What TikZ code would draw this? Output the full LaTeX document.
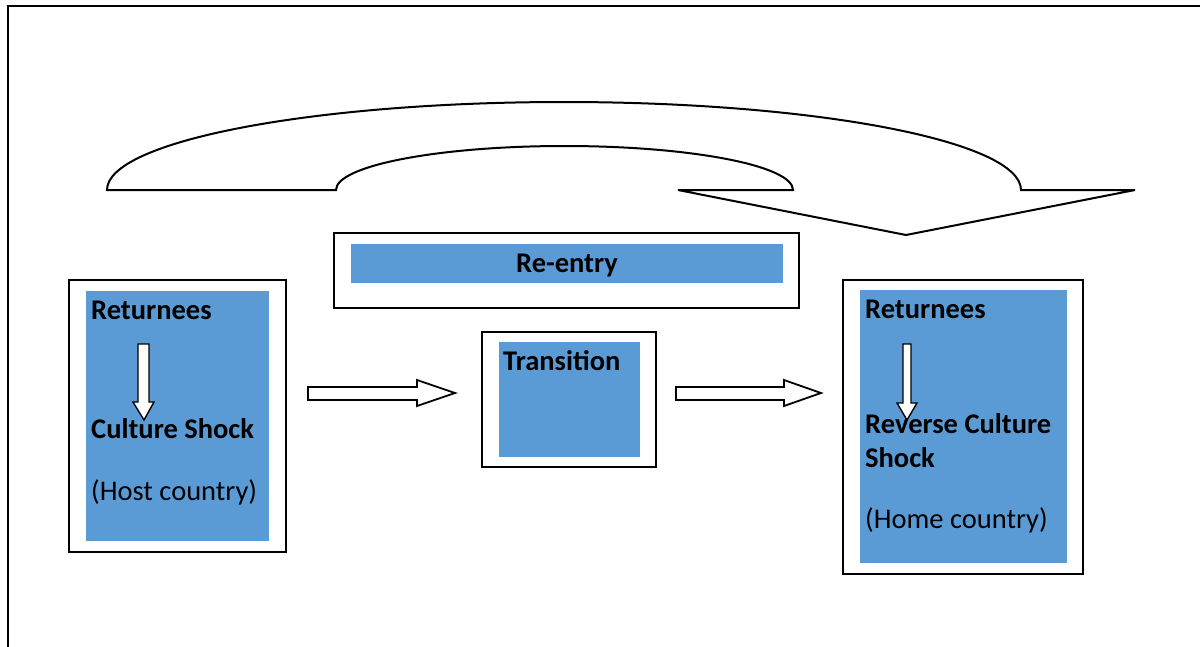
\documentclass[tikz,border=0pt]{standalone}
\usepackage{fontspec}
\setmainfont{Carlito}
\definecolor{boxblue}{RGB}{91,155,213}
\begin{document}
\begin{tikzpicture}[x=1pt,y=-1pt,
  frameline/.style={line width=2.8pt,line cap=rect},
  outerbox/.style={draw=black,line width=2.2pt,fill=white,inner sep=0pt,outer sep=0pt,anchor=north west},
  bluebox/.style={fill=boxblue,draw=none,inner sep=0pt,outer sep=0pt,anchor=north west},
  lbl/.style={anchor=base west,inner sep=0pt,font=\fontsize{28.5}{34}\selectfont\bfseries},
  plainlbl/.style={anchor=base west,inner sep=0pt,font=\fontsize{28.5}{34}\selectfont},
  blockarrow/.style={draw=black,line width=1.8pt,fill=white,line join=miter},
  curvearrow/.style={draw=black,line width=2pt,fill=white,line join=miter}
]
\useasboundingbox (0,0) rectangle (1200,646);

% page frame (top and left edges)
\draw[frameline] (1200,6) -- (8,6) -- (8,646);

% curved return arrow
\draw[curvearrow] (107,190)
  arc[start angle=180,end angle=0,x radius=457pt,y radius=88pt]
  -- (1135,190) -- (906,235) -- (678,190) -- (793,190)
  arc[start angle=0,end angle=180,x radius=228.5pt,y radius=44pt]
  -- cycle;

% host country box
\node[outerbox,minimum width=217pt,minimum height=272pt] (hostframe) at (69,280) {};
\node[bluebox,minimum width=183pt,minimum height=250pt] (hostfill) at (86,291) {};
\node[lbl] (hostret) at (91,319) {Returnees};
\node[lbl] (hostshock) at (91,438) {Culture Shock};
\node[plainlbl] (hostname) at (91,500) {(Host country)};

% re-entry box
\node[outerbox,minimum width=465pt,minimum height=75pt] (reentryframe) at (334,233) {};
\node[bluebox,minimum width=432pt,minimum height=39pt] (reentryfill) at (351,244) {};
\node[lbl,anchor=base] (reentry) at (567,272) {Re-entry};

% transition box
\node[outerbox,minimum width=174pt,minimum height=135pt] (transframe) at (482,332) {};
\node[bluebox,minimum width=141pt,minimum height=115pt] (transfill) at (499,342) {};
\node[lbl] (trans) at (503,370) {Transition};

% home country box
\node[outerbox,minimum width=240pt,minimum height=294pt] (homeframe) at (843,280) {};
\node[bluebox,minimum width=207pt,minimum height=273pt] (homefill) at (860,290) {};
\node[lbl] (homeret) at (865,318) {Returnees};
\node[lbl] (homeshock1) at (865,433) {Reverse Culture};
\node[lbl] (homeshock2) at (865,467) {Shock};
\node[plainlbl] (homename) at (865,528) {(Home country)};

% block arrows between the stages
\draw[blockarrow] (308,387) -- (417,387) -- (417,380) -- (455,393)
  -- (417,406) -- (417,400) -- (308,400) -- cycle;
\draw[blockarrow] (676,387) -- (784,387) -- (784,380) -- (821,393)
  -- (784,406) -- (784,400) -- (676,400) -- cycle;

% small down arrows inside the boxes
\draw[blockarrow,line width=1.4pt] (138,344) -- (149,344) -- (149,402) -- (154,402)
  -- (144,420) -- (133,402) -- (138,402) -- cycle;
\draw[blockarrow,line width=1.4pt] (903,344) -- (911,344) -- (911,403) -- (917,403)
  -- (907,420) -- (897,403) -- (903,403) -- cycle;
\end{tikzpicture}
\end{document}
